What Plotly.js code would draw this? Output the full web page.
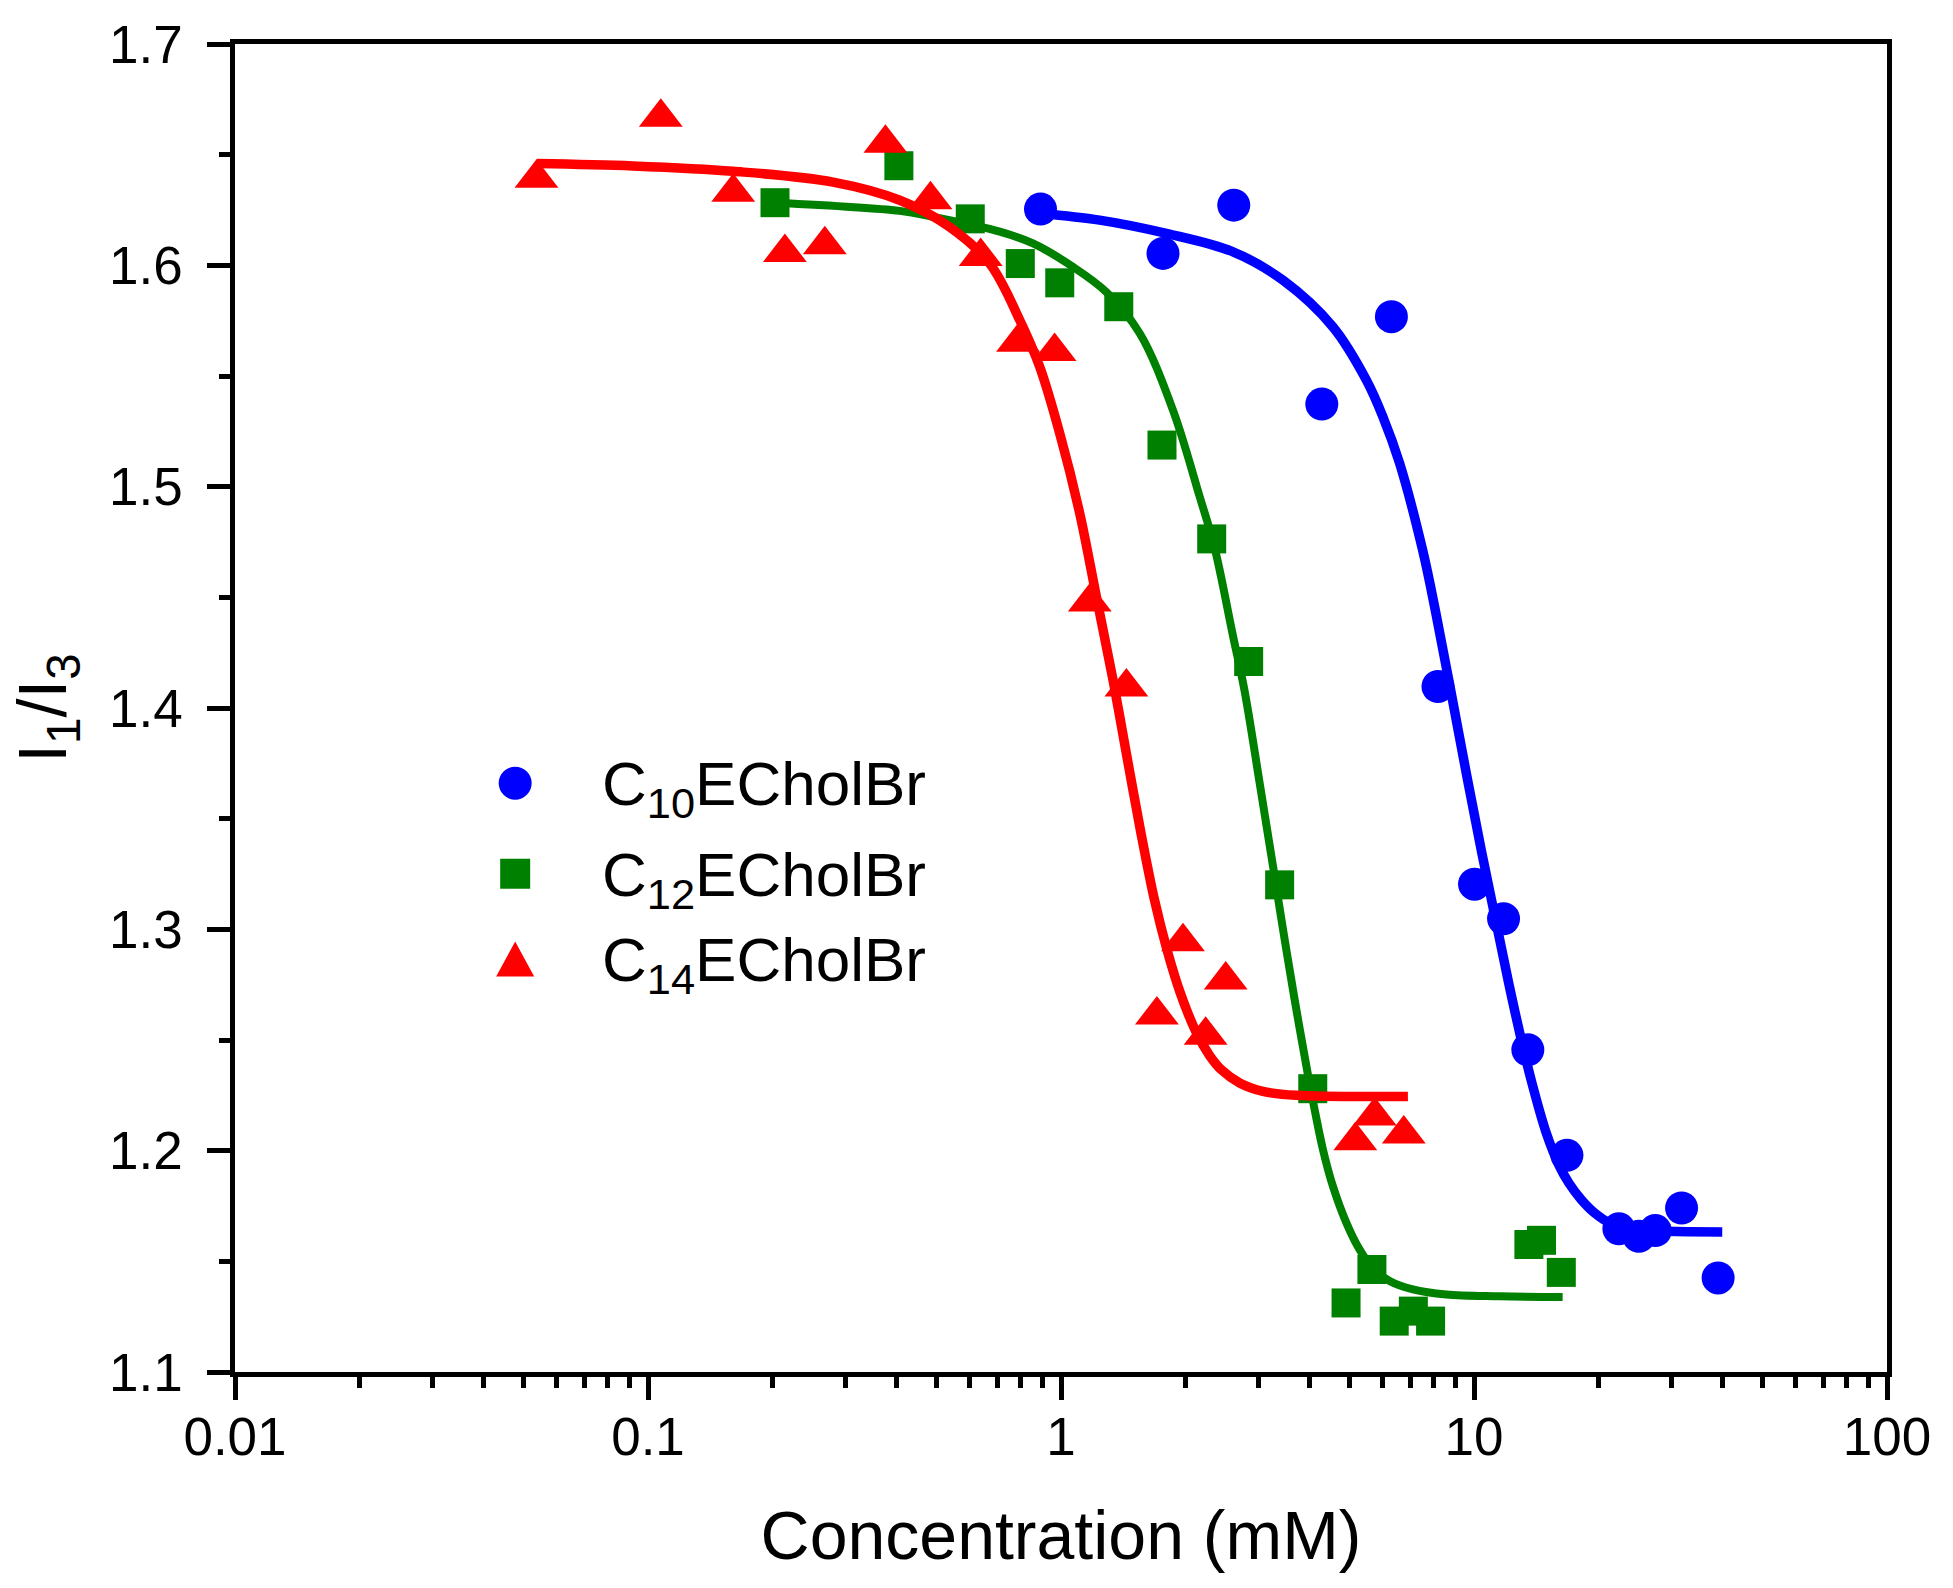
<!DOCTYPE html>
<html>
<head>
<meta charset="utf-8">
<script src="https://cdn.plot.ly/plotly-3.0.1.min.js"></script>
<style>
  html, body { margin: 0; padding: 0; background: #ffffff; }
  #chart { width: 1953px; height: 1588px; }
</style>
</head>
<body>
<div id="chart"></div>
<script>
// ---------- data ----------
const seriesNames = ["C<sub>10</sub>ECholBr", "C<sub>12</sub>ECholBr", "C<sub>14</sub>ECholBr"];

// C10ECholBr measured points
const c10X = [0.892, 1.766, 2.62, 4.28, 6.31, 8.18, 10.03, 11.79, 13.50, 16.79, 22.43, 25.07, 27.48, 31.81, 39.0];
const c10Y = [1.6254, 1.6054, 1.6272, 1.5373, 1.5768, 1.4097, 1.3204, 1.3048, 1.2456, 1.1979, 1.1647, 1.1613, 1.1639, 1.1741, 1.1425];
// C10ECholBr fitted curve
const c10FitX = [0.892, 1.2405, 1.7992, 2.6086, 3.4461, 4.553, 5.4863, 6.020, 6.6039, 7.508, 8.075, 8.7783, 9.596, 10.433, 11.279, 12.129, 12.966, 13.784, 14.962, 16.114, 16.97, 18.185, 19.582, 21.29, 24.712, 29.215, 39.91];
const c10FitY = [1.6234, 1.6204, 1.6144, 1.6061, 1.5933, 1.5722, 1.5482, 1.5315, 1.5106, 1.4714, 1.4434, 1.4082, 1.3698, 1.3350, 1.3043, 1.2759, 1.2515, 1.2312, 1.2080, 1.1929, 1.1854, 1.1779, 1.1719, 1.1674, 1.1643, 1.1636, 1.1633];

// C12ECholBr measured points
const c12X = [0.203, 0.405, 0.603, 0.797, 0.993, 1.38, 1.756, 2.317, 2.847, 3.384, 4.07, 4.90, 5.66, 6.41, 7.13, 7.85, 13.58, 14.57, 16.27];
const c12Y = [1.6283, 1.645, 1.621, 1.6008, 1.5921, 1.5813, 1.5188, 1.4764, 1.421, 1.3201, 1.228, 1.1312, 1.1463, 1.123, 1.1275, 1.123, 1.1576, 1.1595, 1.145];
// C12ECholBr fitted curve
const c12FitX = [0.203, 0.407, 0.4898, 0.7107, 0.8554, 1.0691, 1.2882, 1.5506, 1.8666, 2.1667, 2.3554, 2.6086, 2.7797, 3.027, 3.2614, 3.4597, 3.679, 3.962, 4.113, 4.308, 4.554, 4.909, 5.286, 5.674, 6.247, 7.114, 8.57, 11.535, 16.39];
const c12FitY = [1.6283, 1.6246, 1.6219, 1.6152, 1.6099, 1.5993, 1.5879, 1.5693, 1.5346, 1.4955, 1.4723, 1.4326, 1.4082, 1.3661, 1.3284, 1.2983, 1.2682, 1.2343, 1.2185, 1.2005, 1.1839, 1.1674, 1.1553, 1.1472, 1.1411, 1.1373, 1.1350, 1.1342, 1.1339];

// C14ECholBr measured points
const c14X = [0.0537, 0.1074, 0.1608, 0.2145, 0.268, 0.3757, 0.483, 0.639, 0.787, 0.965, 1.174, 1.44, 1.707, 1.974, 2.24, 2.505, 5.16, 5.75, 6.76];
const c14Y = [1.6394, 1.6669, 1.633, 1.6058, 1.6093, 1.6552, 1.6296, 1.604, 1.5653, 1.5611, 1.4479, 1.4095, 1.2613, 1.2944, 1.2522, 1.2771, 1.2045, 1.2157, 1.2075];
// C14ECholBr fitted curve
const c14FitX = [0.0537, 0.0919, 0.1608, 0.2806, 0.407, 0.538, 0.6722, 0.7943, 0.8878, 0.9928, 1.1099, 1.218, 1.3364, 1.4344, 1.5617, 1.6834, 1.8058, 1.9454, 2.1271, 2.291, 2.4491, 2.708, 3.083, 3.714, 6.918];
const c14FitY = [1.646, 1.6449, 1.6425, 1.6376, 1.6294, 1.6173, 1.6008, 1.5753, 1.5542, 1.5241, 1.488, 1.4503, 1.4127, 1.3811, 1.3435, 1.3134, 1.2908, 1.2712, 1.2533, 1.2429, 1.2364, 1.2306, 1.2268, 1.225, 1.2245];

// axis ticks
const xTickVals = [0.01, 0.1, 1, 10, 100];
const xTickText = ["0.01", "0.1", "1", "10", "100"];
const yTickVals = [1.1, 1.2, 1.3, 1.4, 1.5, 1.6, 1.7];
const yTickText = ["1.1", "1.2", "1.3", "1.4", "1.5", "1.6", "1.7"];

// ---------- styles ----------
const FONT = "Liberation Sans, Arial, Helvetica, sans-serif";
const BLUE = "#0000ff", GREEN = "#008000", RED = "#ff0000";

const traces = [
  { x: c10X, y: c10Y, mode: "markers", name: "C10ECholBr", showlegend: false,
    marker: { symbol: "circle", size: 33, color: BLUE } },
  { x: c10FitX, y: c10FitY, mode: "lines", showlegend: false, hoverinfo: "skip",
    line: { color: BLUE, width: 9.5, shape: "spline", smoothing: 1 } },
  { x: c12X, y: c12Y, mode: "markers", name: "C12ECholBr", showlegend: false,
    marker: { symbol: "square", size: 29, color: GREEN } },
  { x: c12FitX, y: c12FitY, mode: "lines", showlegend: false, hoverinfo: "skip",
    line: { color: GREEN, width: 8, shape: "spline", smoothing: 1 } },
  { x: c14X, y: c14Y, mode: "markers", name: "C14ECholBr", showlegend: false,
    marker: { symbol: "triangle-up", size: 38, color: RED } },
  { x: c14FitX, y: c14FitY, mode: "lines", showlegend: false, hoverinfo: "skip",
    line: { color: RED, width: 9.5, shape: "spline", smoothing: 1 } }
];

// legend (drawn as shapes + text so symbol size matches the markers)
const legX = 0.1696;
const legY = [0.4434, 0.3752, 0.3110];
const shapes = [
  { type: "circle", xref: "paper", yref: "paper", xsizemode: "pixel", ysizemode: "pixel",
    xanchor: legX, yanchor: legY[0], x0: -16.5, x1: 16.5, y0: -16.5, y1: 16.5,
    fillcolor: BLUE, line: { width: 0 } },
  { type: "rect", xref: "paper", yref: "paper", xsizemode: "pixel", ysizemode: "pixel",
    xanchor: legX, yanchor: legY[1], x0: -15, x1: 15, y0: -15, y1: 15,
    fillcolor: GREEN, line: { width: 0 } },
  { type: "path", xref: "paper", yref: "paper", xsizemode: "pixel", ysizemode: "pixel",
    xanchor: legX, yanchor: legY[2], path: "M -19,-17.5 L 19,-17.5 L 0,17.5 Z",
    fillcolor: RED, line: { width: 0 } }
];
const annotations = seriesNames.map((t, i) => ({
  text: t, xref: "paper", yref: "paper", x: 0.2208, y: legY[i], yshift: -5,
  xanchor: "left", yanchor: "middle", showarrow: false,
  font: { family: FONT, size: 62, color: "#000" }
}));

const axisCommon = {
  showline: true, linecolor: "#000", linewidth: 4.5, mirror: true,
  ticks: "outside", ticklen: 23, tickwidth: 4.5, tickcolor: "#000",
  showgrid: false, zeroline: false,
  tickfont: { family: FONT, size: 53, color: "#000" }
};

const layout = {
  width: 1953, height: 1588,
  paper_bgcolor: "#fff", plot_bgcolor: "#fff",
  margin: { l: 235, r: 65.5, t: 43.75, b: 215.5, pad: 0 },
  showlegend: false,
  xaxis: Object.assign({}, axisCommon, {
    type: "log", range: [-2, 2],
    tickmode: "array", tickvals: xTickVals, ticktext: xTickText,
    ticklabelstandoff: -8,
    minor: { dtick: "D1", ticks: "outside", ticklen: 11, tickwidth: 4.5, tickcolor: "#000", showgrid: false },
    title: { text: "Concentration (mM)", font: { family: FONT, size: 68, color: "#000" }, standoff: 48 }
  }),
  yaxis: Object.assign({}, axisCommon, {
    range: [1.1, 1.7],
    tickmode: "array", tickvals: yTickVals, ticktext: yTickText,
    ticklabelstandoff: 14,
    minor: { dtick: 0.05, tick0: 1.1, ticks: "outside", ticklen: 11, tickwidth: 4.5, tickcolor: "#000", showgrid: false },
    title: { text: "I<sub>1</sub>/I<sub>3</sub>", font: { family: FONT, size: 68, color: "#000" }, standoff: 22 }
  }),
  shapes: shapes,
  annotations: annotations
};

Plotly.newPlot("chart", traces, layout, { displayModeBar: false, responsive: false });
</script>
</body>
</html>
